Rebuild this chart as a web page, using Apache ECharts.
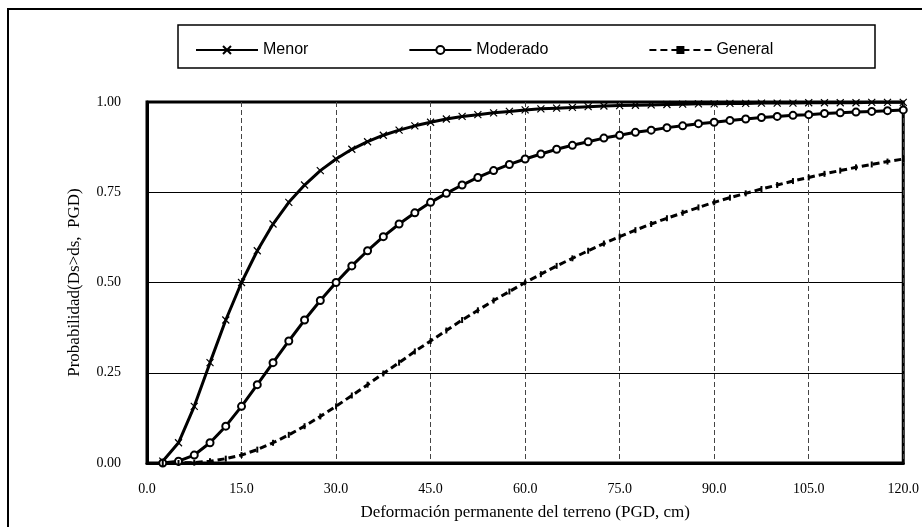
<!DOCTYPE html>
<html>
<head>
    <meta charset="utf-8"/>
    <title>Curvas de fragilidad PGD</title>
    <script src="https://cdn.jsdelivr.net/npm/echarts@6/dist/echarts.min.js"></script>
    <style>
        html, body { margin: 0; padding: 0; background: #fff; }
        #main { width: 922px; height: 527px; }
    </style>
</head>
<body>
<div id="main"></div>
<script type="text/javascript">
    // deformacion (cm)
    var pgd = [2.5, 5, 7.5, 10, 12.5, 15, 17.5, 20, 22.5, 25, 27.5, 30, 32.5, 35, 37.5, 40, 42.5, 45, 47.5, 50,
        52.5, 55, 57.5, 60, 62.5, 65, 67.5, 70, 72.5, 75, 77.5, 80, 82.5, 85, 87.5, 90, 92.5, 95, 97.5, 100,
        102.5, 105, 107.5, 110, 112.5, 115, 117.5, 120];

    var menor = [0.005, 0.056, 0.157, 0.278, 0.396, 0.500, 0.588, 0.662, 0.722, 0.770, 0.810, 0.842, 0.869, 0.890,
        0.908, 0.922, 0.934, 0.944, 0.953, 0.960, 0.965, 0.970, 0.974, 0.978, 0.981, 0.983, 0.985, 0.987, 0.989,
        0.990, 0.991, 0.992, 0.993, 0.994, 0.995, 0.995, 0.996, 0.996, 0.997, 0.997, 0.997, 0.998, 0.998, 0.998,
        0.998, 0.999, 0.999, 0.999];

    var moderado = [0.000, 0.005, 0.022, 0.056, 0.102, 0.157, 0.217, 0.278, 0.338, 0.396, 0.450, 0.500, 0.546, 0.588,
        0.627, 0.662, 0.693, 0.722, 0.747, 0.770, 0.791, 0.810, 0.827, 0.842, 0.856, 0.869, 0.880, 0.890, 0.900,
        0.908, 0.916, 0.922, 0.929, 0.934, 0.940, 0.944, 0.949, 0.953, 0.957, 0.960, 0.963, 0.965, 0.968, 0.970,
        0.972, 0.974, 0.976, 0.978];

    var general = [0.000, 0.000, 0.001, 0.005, 0.012, 0.022, 0.037, 0.056, 0.078, 0.102, 0.129, 0.157, 0.187, 0.217,
        0.248, 0.278, 0.309, 0.338, 0.367, 0.396, 0.423, 0.450, 0.475, 0.500, 0.523, 0.546, 0.567, 0.588, 0.608,
        0.627, 0.645, 0.662, 0.678, 0.693, 0.708, 0.722, 0.735, 0.747, 0.759, 0.770, 0.781, 0.791, 0.801, 0.810,
        0.819, 0.827, 0.835, 0.842];

    var nombres = ['Menor', 'Moderado', 'General'];

    function pares(ys) {
        return pgd.map(function (x, i) { return [x, ys[i]]; });
    }

    var serif = '"Liberation Serif", "DejaVu Serif", serif';
    var sans = '"Liberation Sans", Arial, sans-serif';

    var myChart = echarts.init(document.getElementById('main'));

    var option = {
        backgroundColor: '#fff',
        animation: false,
        graphic: [
            // marco exterior
            {type: 'rect', shape: {x: 8, y: 9, width: 930, height: 540}, style: {fill: 'none', stroke: '#000', lineWidth: 2}},
            // caja de la leyenda
            {type: 'rect', shape: {x: 178, y: 25, width: 697, height: 43}, style: {fill: 'none', stroke: '#000', lineWidth: 1.5}}
        ],
        legend: {
            data: nombres,
            left: 190,
            top: 37,
            itemWidth: 62,
            itemHeight: 10,
            itemGap: 100,
            textStyle: {fontFamily: sans, fontSize: 16, color: '#000'}
        },
        grid: {
            left: 147,
            right: 13,
            top: 102,
            bottom: 64,
            show: true,
            backgroundColor: '#fff',
            borderColor: '#000',
            borderWidth: 3
        },
        xAxis: {
            type: 'value',
            min: 0,
            max: 120,
            interval: 15,
            name: 'Deformación permanente del terreno (PGD, cm)',
            nameLocation: 'middle',
            nameGap: 41,
            nameTextStyle: {fontFamily: serif, fontSize: 17, color: '#000'},
            axisLine: {lineStyle: {color: '#000', width: 3}},
            axisTick: {show: false},
            axisLabel: {
                margin: 19, fontFamily: serif, fontSize: 14, color: '#000',
                formatter: function (v) { return v.toFixed(1); }
            },
            splitLine: {show: true, lineStyle: {color: '#444', width: 1, type: [5, 3]}}
        },
        yAxis: {
            type: 'value',
            min: 0,
            max: 1,
            interval: 0.25,
            name: 'Probabilidad(Ds>ds,  PGD)',
            nameLocation: 'middle',
            nameGap: 64,
            nameTextStyle: {fontFamily: serif, fontSize: 17, color: '#000'},
            axisLine: {lineStyle: {color: '#000', width: 3}},
            axisTick: {show: false},
            axisLabel: {
                margin: 26, fontFamily: serif, fontSize: 14, color: '#000',
                formatter: function (v) { return v.toFixed(2); }
            },
            splitLine: {show: true, lineStyle: {color: '#000', width: 1}}
        },
        series: [
            {
                name: nombres[0],
                type: 'line',
                data: pares(menor),
                symbol: 'path://M0,0L10,10M10,0L0,10',
                symbolSize: 7,
                lineStyle: {color: '#000', width: 3},
                itemStyle: {color: '#fff', borderColor: '#000', borderWidth: 1.2}
            },
            {
                name: nombres[1],
                type: 'line',
                data: pares(moderado),
                symbol: 'emptyCircle',
                symbolSize: 7,
                lineStyle: {color: '#000', width: 3},
                itemStyle: {color: '#000', borderColor: '#000', borderWidth: 1.2}
            },
            {
                name: nombres[2],
                type: 'line',
                data: pares(general),
                symbol: 'rect',
                symbolSize: [2, 6],
                lineStyle: {color: '#000', width: 3, type: [7, 4]},
                itemStyle: {color: '#000'}
            }
        ]
    };

    myChart.setOption(option);
</script>
</body>
</html>
